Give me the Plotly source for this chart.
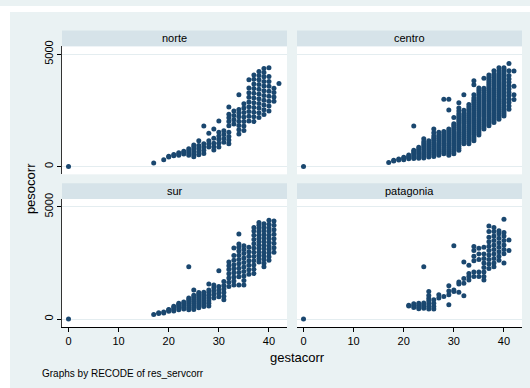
import plotly.graph_objects as go

# Birth weight (g) by gestational age (weeks), one dict per region: week -> weights
norte = {
    0: [0],
    17: [160],
    19: [300],
    20: [420, 460],
    21: [480, 530],
    22: [500, 560, 610],
    23: [560, 620, 680],
    24: [500, 600, 700, 790],
    25: [430, 540, 650, 760, 870, 960],
    26: [520, 660, 800, 930, 1150],
    27: [580, 720, 870, 1010, 1800],
    28: [870, 1000, 1150, 1480],
    29: [730, 880, 1030, 1260, 1670],
    30: [870, 1030, 1200, 1360, 1520, 2030],
    31: [1080, 1250, 1420, 1590],
    32: [1010, 1180, 1340, 1520, 1820, 2000, 2170, 2330, 2650],
    33: [1890, 2080, 2270, 2470],
    34: [1450, 1640, 1830, 2020, 2210, 2380, 2540, 3200],
    35: [1600, 1800, 2000, 2200, 2400, 2600, 2790],
    36: [2030, 2240, 2450, 2660, 2870, 3080, 3290, 3500, 3860],
    37: [2000, 2210, 2420, 2630, 2840, 3050, 3260, 3470, 3680, 3890, 4080],
    38: [2180, 2390, 2600, 2810, 3020, 3230, 3440, 3650, 3860, 4050, 4230],
    39: [2320, 2530, 2740, 2950, 3160, 3370, 3580, 3790, 4000, 4190, 4370],
    40: [2470, 2690, 2910, 3130, 3350, 3570, 3790, 4010, 4400],
    41: [2910, 3100, 3300, 3490],
    42: [3700],
}

centro = {
    0: [0],
    17: [180],
    18: [240, 280],
    19: [290, 330],
    20: [300, 360, 410],
    21: [340, 400, 460, 510],
    22: [350, 430, 510, 590, 660, 720, 1800],
    23: [370, 450, 530, 610, 690, 770, 860],
    24: [380, 470, 560, 650, 740, 830, 920, 1010, 1100, 1230],
    25: [420, 510, 600, 690, 780, 870, 960, 1050, 1150],
    26: [450, 540, 630, 720, 810, 900, 990, 1080, 1170, 1260, 1360, 1500, 1670],
    27: [500, 590, 680, 770, 860, 950, 1040, 1130, 1220, 1310, 1400, 1530],
    28: [570, 660, 750, 840, 930, 1020, 1110, 1200, 1290, 1380, 1470, 1560, 3000],
    29: [500, 590, 680, 770, 860, 950, 1040, 1130, 1220, 1310, 1400, 1490, 1580, 1670,
         2520, 3000],
    30: [570, 660, 750, 840, 930, 1020, 1110, 1200, 1290, 1380, 1470, 1560, 1650, 1740,
         1830, 1900, 2180],
    31: [720, 810, 900, 990, 1080, 1170, 1260, 1350, 1440, 1530, 1620, 1710, 1800, 1890,
         1980, 2070, 2160, 2250, 2350, 2470, 2600, 2840],
    32: [1010, 1100, 1190, 1280, 1370, 1460, 1550, 1640, 1730, 1820, 1910, 2000, 2090,
         2180, 2270, 2360, 2500, 3200],
    33: [1010, 1100, 1190, 1280, 1370, 1460, 1550, 1640, 1730, 1820, 1910, 2000, 2090,
         2180, 2270, 2360, 2450, 2550, 2650, 2760],
    34: [1150, 1240, 1330, 1420, 1510, 1600, 1690, 1780, 1870, 1960, 2050, 2140, 2230,
         2320, 2410, 2500, 2590, 2680, 2770, 2860, 2950, 3050, 3200, 3640, 3820],
    35: [1400, 1490, 1580, 1670, 1760, 1850, 1940, 2030, 2120, 2210, 2300, 2390, 2480,
         2570, 2660, 2750, 2840, 2930, 3020, 3110, 3200, 3300, 3400, 3500],
    36: [1670, 1760, 1850, 1940, 2030, 2120, 2210, 2300, 2390, 2480, 2570, 2660, 2750,
         2840, 2930, 3020, 3110, 3200, 3300, 3400, 3490, 3930],
    37: [1810, 1900, 1990, 2080, 2170, 2260, 2350, 2440, 2530, 2620, 2710, 2800, 2890,
         2980, 3070, 3160, 3250, 3340, 3430, 3520, 3610, 3700, 3790, 3880, 3980, 4080],
    38: [1960, 2050, 2140, 2230, 2320, 2410, 2500, 2590, 2680, 2770, 2860, 2950, 3040,
         3130, 3220, 3310, 3400, 3490, 3580, 3670, 3760, 3850, 3940, 4030, 4120, 4260],
    39: [2100, 2190, 2280, 2370, 2460, 2550, 2640, 2730, 2820, 2910, 3000, 3090, 3180,
         3270, 3360, 3450, 3540, 3630, 3720, 3810, 3900, 3990, 4080, 4170, 4260, 4400],
    40: [2250, 2340, 2430, 2520, 2610, 2700, 2790, 2880, 2970, 3060, 3150, 3240, 3330,
         3420, 3510, 3600, 3690, 3780, 3870, 3960, 4050, 4140, 4230, 4320, 4400],
    41: [2550, 2700, 2850, 3000, 3150, 3300, 3450, 3600, 3750, 3900, 4050, 4260, 4590],
    42: [2980, 3200, 3570, 4250],
}

sur = {
    0: [0],
    17: [200],
    18: [250, 280],
    19: [270, 310],
    20: [350, 400, 430],
    21: [360, 430, 500, 570],
    22: [420, 500, 580, 650, 700],
    23: [450, 530, 610, 690, 760],
    24: [420, 510, 600, 690, 780, 860, 940, 2330],
    25: [430, 520, 610, 700, 790, 880, 970, 1060, 1300],
    26: [500, 590, 680, 770, 860, 950, 1040, 1120, 1180],
    27: [560, 650, 740, 830, 920, 1010, 1100, 1200],
    28: [580, 700, 820, 940, 1060, 1180, 1300, 1560],
    29: [940, 1100, 1250, 1400, 1520],
    30: [1000, 1150, 1300, 1450, 2150],
    31: [860, 1020, 1180, 1340, 1500, 1670],
    32: [1450, 1640, 1830, 2020, 2210, 2380, 2540],
    33: [1520, 1700, 1880, 2060, 2240, 2420, 2620, 2830, 3170],
    34: [1520, 1890, 2080, 2270, 2460, 2650, 2840, 3030, 3200, 3350, 3790],
    35: [1520, 1720, 1920, 2120, 2320, 2520, 2720, 2920, 3100, 3270],
    36: [2000, 2200, 2400, 2600, 2800, 3000, 3200],
    37: [2030, 2220, 2410, 2600, 2790, 2980, 3170, 3360, 3550, 3740, 3920, 4080],
    38: [2540, 2690, 2840, 2990, 3140, 3290, 3440, 3590, 3740, 3890, 4040, 4180, 4300],
    39: [2330, 2490, 2650, 2810, 2970, 3130, 3290, 3450, 3610, 3770, 3930, 4090, 4250],
    40: [2620, 2780, 2940, 3100, 3260, 3420, 3580, 3740, 3900, 4060, 4220, 4400],
    41: [2980, 3180, 3380, 3580, 3780, 3980, 4180, 4370],
}

patagonia = {
    0: [0],
    21: [580, 620],
    22: [520, 600, 680],
    23: [460, 540, 620, 700],
    24: [480, 560, 640, 720, 2330],
    25: [450, 560, 680, 800, 920, 1050, 1230],
    26: [450, 560, 700, 860],
    27: [940, 1080],
    28: [1010],
    29: [640, 1080, 1250, 1480],
    30: [1230, 1300, 3270],
    31: [1200, 1560, 1650],
    32: [1040, 1600, 1810, 2540],
    33: [1740, 1900, 2030, 2400],
    34: [1900, 2100, 2600, 2800, 3050, 3230],
    35: [1900, 2100, 2650, 2900, 3150],
    36: [1740, 1900, 2100, 2300, 2500, 2700, 2900, 3200],
    37: [2250, 2450, 2650, 2850, 3050, 3250, 3450, 3650, 3900, 4150],
    38: [2330, 2500, 2700, 2900, 3100, 3300, 3500, 3700, 3900, 4080],
    39: [2620, 2800, 3000, 3200, 3400, 3600, 3800, 3930],
    40: [2500, 2910, 3100, 3300, 3500, 3700, 3860, 4450],
    41: [3060, 3520],
}

region_names = ["norte", "centro", "sur", "patagonia"]
region_data = [norte, centro, sur, patagonia]
x_ticks = [0, 10, 20, 30, 40]
y_ticks = [0, 5000]

W, H = 530, 388
BG = "#EAF2F3"
STRIP = "#D6E3E9"
NAVY = "#1A476F"
FONT = "Liberation Sans, Arial, sans-serif"


def fx(p):
    return p / W


def fy(p):
    return 1 - p / H


# panel pixel boxes: (left, right, top, bottom)
boxes = [(62, 287, 41, 171), (297, 522, 41, 171),
         (62, 287, 196, 326), (297, 522, 196, 326)]

fig = go.Figure()
layout = dict(
    width=W, height=H, autosize=False,
    margin=dict(l=0, r=0, t=0, b=0),
    paper_bgcolor=BG, plot_bgcolor="white",
    showlegend=False,
    font=dict(family=FONT, color="#000000"),
    shapes=[], annotations=[],
)

# thin white frame around the graph region
layout["shapes"] += [
    dict(type="rect", xref="paper", yref="paper", x0=0, x1=fx(10), y0=0, y1=1,
         fillcolor="white", line_width=0, layer="below"),
    dict(type="rect", xref="paper", yref="paper", x0=0, x1=1, y0=fy(6), y1=1,
         fillcolor="white", line_width=0, layer="below"),
]

for i, (name, data, (l, r, t, b)) in enumerate(zip(region_names, region_data, boxes)):
    n = "" if i == 0 else str(i + 1)
    xs, ys = [], []
    for wk, ws in data.items():
        xs += [wk] * len(ws)
        ys += ws
    fig.add_trace(go.Scatter(
        x=xs, y=ys, mode="markers", xaxis="x" + n, yaxis="y" + n,
        marker=dict(size=5, color=NAVY, line=dict(width=0)),
        hoverinfo="skip",
    ))
    left = i % 2 == 0
    bottom = i >= 2
    layout["xaxis" + n] = dict(
        domain=[fx(l), fx(r)], anchor="y" + n, range=[-1.3, 43.6],
        tickvals=x_ticks, showticklabels=bottom, ticks="outside" if bottom else "",
        ticklen=4, tickcolor="#000000", showline=bottom, linecolor="#000000",
        linewidth=1, showgrid=False, zeroline=False,
        tickfont=dict(size=11, family=FONT),
    )
    layout["yaxis" + n] = dict(
        domain=[fy(b), fy(t)], anchor="x" + n, range=[-351, 5351],
        tickvals=y_ticks, showticklabels=left, ticks="outside" if left else "",
        ticklen=4, tickcolor="#000000", showline=left, linecolor="#333333",
        linewidth=1, showgrid=True, gridcolor="#E4EDF0", gridwidth=1,
        zeroline=False, tickangle=-90, tickfont=dict(size=11, family=FONT),
    )
    # strip header
    layout["shapes"].append(dict(
        type="rect", xref="paper", yref="paper",
        x0=fx(l), x1=fx(r), y0=fy(t), y1=fy(t - 16),
        fillcolor=STRIP, line_width=0, layer="below",
    ))
    layout["annotations"].append(dict(
        text=name, xref="paper", yref="paper", x=fx((l + r) / 2), y=fy(t - 8),
        xanchor="center", yanchor="middle", showarrow=False,
        font=dict(size=11, family=FONT),
    ))

layout["annotations"] += [
    dict(text="pesocorr", xref="paper", yref="paper", x=fx(30), y=fy(186),
         textangle=-90, xanchor="center", yanchor="middle", showarrow=False,
         font=dict(size=13, family=FONT)),
    dict(text="gestacorr", xref="paper", yref="paper", x=fx(297), y=fy(357),
         xanchor="center", yanchor="middle", showarrow=False,
         font=dict(size=13, family=FONT)),
    dict(text="Graphs by RECODE of res_servcorr", xref="paper", yref="paper",
         x=fx(40), y=fy(373), xanchor="left", yanchor="middle", showarrow=False,
         font=dict(size=10, family=FONT)),
]

fig.update_layout(**layout)
fig.write_html("out.html")
